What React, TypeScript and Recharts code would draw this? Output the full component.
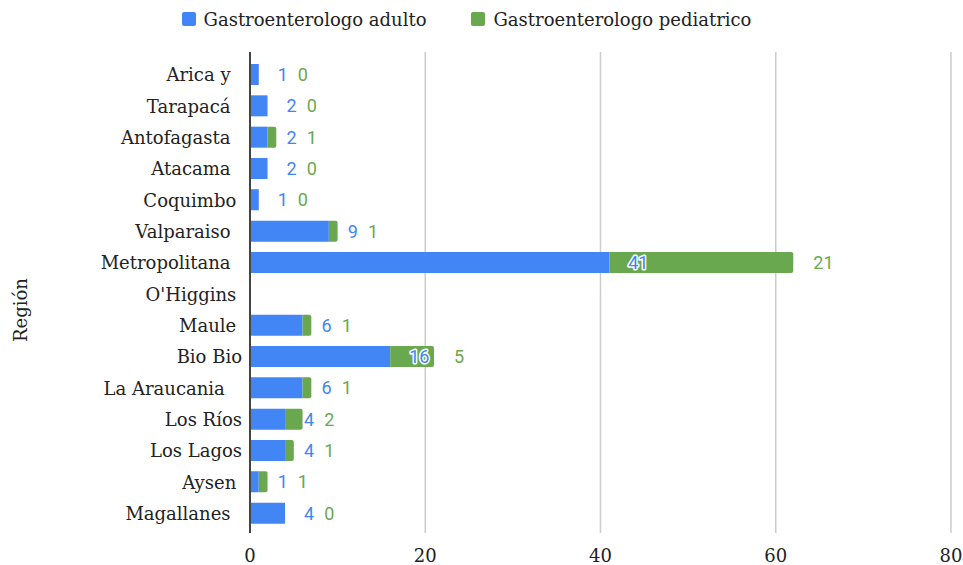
import React from "react";
import { Bar, BarChart, CartesianGrid, LabelList, XAxis, YAxis } from "recharts";

// Especialistas por región (algunos nombres traen espacios al final en la fuente)
const regiones = [
  "Arica y  ",
  "Tarapacá  ",
  "Antofagasta  ",
  "Atacama  ",
  "Coquimbo ",
  "Valparaiso  ",
  "Metropolitana  ",
  "O'Higgins ",
  "Maule ",
  "Bio Bio",
  "La Araucania   ",
  "Los Ríos",
  "Los Lagos",
  "Aysen ",
  "Magallanes  ",
];
const adultos: (number | null)[] = [1, 2, 2, 2, 1, 9, 41, null, 6, 16, 6, 4, 4, 1, 4];
const pediatricos: (number | null)[] = [0, 0, 1, 0, 0, 1, 21, null, 1, 5, 1, 2, 1, 1, 0];
const ticksX = [0, 20, 40, 60, 80];

const AZUL = "#4285f4";
const VERDE = "#6aa84f";
const SERIF = '"DejaVu Serif", serif';
const SANS = "Roboto, sans-serif";

const data = regiones.map((region, i) => ({
  region,
  adulto: adultos[i],
  pediatrico: pediatricos[i],
}));

const digitWidth = 10.1;

function RegionTick(props: any) {
  const { x, y, payload } = props;
  return (
    <text
      x={x}
      y={y}
      textAnchor="end"
      dominantBaseline="central"
      xmlSpace="preserve"
      style={{ whiteSpace: "pre" }}
      fontFamily={SERIF}
      fontSize={18}
      fill="#222"
    >
      {payload.value}
    </text>
  );
}

function ValueTick(props: any) {
  const { x, y, payload } = props;
  return (
    <text x={x} y={y} textAnchor="middle" dy="0.71em" fontFamily={SERIF} fontSize={18} fill="#222">
      {payload.value}
    </text>
  );
}

const haloText = {
  stroke: "#fff",
  strokeWidth: 3,
  paintOrder: "stroke" as const,
  strokeLinejoin: "round" as const,
};

// Both value labels hang off the adult segment; the pediatric segment's
// end comes from the same px-per-unit that the adult bar was drawn with.
function ParLabel(props: any) {
  const { x, y, width, height, value } = props;
  if (typeof value !== "string") return null;
  const [a, p] = value.split("|");
  if (a === "") return null;
  const adulto = Number(a);
  const ped = Number(p);
  const pxUnit = adulto > 0 ? width / adulto : 0;
  const finAzul = x + width;
  const finVerde = finAzul + ped * pxUnit;
  const xAzul = finAzul + 19;
  const xVerde = Math.max(finVerde + 20, xAzul + a.length * digitWidth + 10);
  const cy = y + height / 2;
  return (
    <g>
      <text x={xAzul} y={cy} dominantBaseline="central" fontFamily={SANS} fontSize={18} fill={AZUL} style={haloText}>
        {a}
      </text>
      <text x={xVerde} y={cy} dominantBaseline="central" fontFamily={SANS} fontSize={18} fill={VERDE} style={haloText}>
        {p}
      </text>
    </g>
  );
}

function Leyenda() {
  const items = [
    { color: AZUL, label: "Gastroenterologo adulto" },
    { color: VERDE, label: "Gastroenterologo pediatrico" },
  ];
  return (
    <div
      style={{
        position: "absolute",
        top: 7,
        left: 0,
        width: 933,
        display: "flex",
        justifyContent: "center",
        gap: 45,
        fontFamily: SERIF,
        fontSize: 18,
        color: "#222",
      }}
    >
      {items.map((it) => (
        <div key={it.label} style={{ display: "flex", alignItems: "center", height: 24 }}>
          <span
            style={{
              width: 14,
              height: 14,
              borderRadius: 2,
              background: it.color,
              marginRight: 8,
              display: "inline-block",
              flexShrink: 0,
            }}
          />
          <span>{it.label}</span>
        </div>
      ))}
    </div>
  );
}

export default function App() {
  return (
    <div style={{ position: "absolute", left: 0, top: 0, width: 963, height: 565, background: "#fff" }}>
      <Leyenda />
      <BarChart
        width={963}
        height={565}
        data={data}
        layout="vertical"
        barSize={21}
        margin={{ top: 52, right: 12, bottom: 2, left: 10 }}
      >
        <CartesianGrid stroke="#cccccc" strokeWidth={1.5} horizontal={false} />
        <XAxis
          type="number"
          domain={[0, 80]}
          ticks={ticksX}
          height={30}
          axisLine={false}
          tickLine={false}
          tickMargin={10}
          tick={<ValueTick />}
        />
        <YAxis
          type="category"
          dataKey="region"
          width={240}
          padding={{ top: 7, bottom: 4 }}
          axisLine={{ stroke: "#444", strokeWidth: 2 }}
          tickLine={false}
          tick={<RegionTick />}
          interval={0}
          label={{
            content: () => (
              <text
                x={20}
                y={310}
                textAnchor="middle"
                dominantBaseline="central"
                transform="rotate(-90 20 310)"
                fontFamily={SERIF}
                fontSize={18}
                fill="#222"
              >
                Región
              </text>
            ),
          }}
        />
        <Bar dataKey="adulto" stackId="a" fill={AZUL} isAnimationActive={false}>
          <LabelList
            dataKey={(d: any) => `${d.adulto ?? ""}|${d.pediatrico ?? ""}`}
            content={<ParLabel />}
          />
        </Bar>
        <Bar dataKey="pediatrico" stackId="a" fill={VERDE} radius={[0, 2, 2, 0]} isAnimationActive={false} />
      </BarChart>
    </div>
  );
}
